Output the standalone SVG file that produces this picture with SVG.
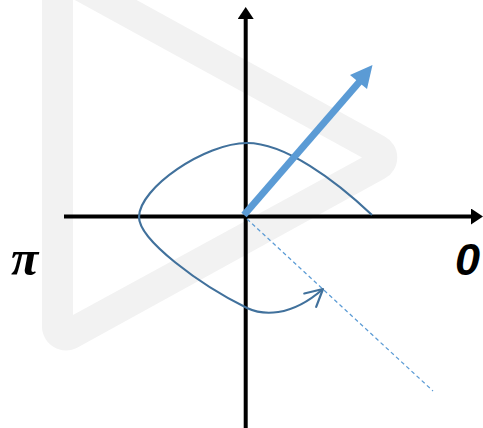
<svg xmlns="http://www.w3.org/2000/svg" width="483" height="428" viewBox="0 0 483 428">
  <style>
    .axis { stroke: #000; stroke-width: 4; fill: none; }
    .lbl { font-weight: bold; font-style: italic; fill: #000; }
  </style>
  <defs>
    <marker id="axhead" viewBox="0 0 12 16" refX="0" refY="8" markerWidth="12" markerHeight="16" markerUnits="userSpaceOnUse" orient="auto">
      <path d="M0,0 L12,8 L0,16 Z" fill="#000"/>
    </marker>
    <marker id="openhead" viewBox="-20 -12 24 24" refX="0" refY="0" markerWidth="24" markerHeight="24" markerUnits="userSpaceOnUse" orient="auto">
      <path d="M-17,-9 L0,0 L-17,9" fill="none" stroke="#41719c" stroke-width="2.2" stroke-linecap="round" stroke-linejoin="round"/>
    </marker>
  </defs>
  <g id="background-triangle">
    <path d="M42,-52 L384.7,136.4 A24,24 0 0 1 384.7,178.6 L77.6,347.4 A24,24 0 0 1 42,326.4 Z" fill="#f2f2f2"/>
    <path d="M73,-1 L362,157.5 L73,315 Z" fill="#ffffff"/>
  </g>
  <g id="connectors">
    <line id="x-axis" class="axis" x1="64" y1="216.5" x2="471" y2="216.5" marker-end="url(#axhead)"/>
    <line id="y-axis" class="axis" x1="245.7" y1="428" x2="245.7" y2="19" marker-end="url(#axhead)"/>
    <line id="dashed" x1="247" y1="219" x2="433" y2="391" stroke="#5b9bd5" stroke-width="1.2" stroke-dasharray="4,3"/>
    <path id="curve" d="M372,215 C335,180 285,143 247,143 C205,143 139,188 139,217 C139,240 200,285 247,308 C262,315 290,318 323,289" fill="none" stroke="#41719c" stroke-width="2.2" marker-end="url(#openhead)"/>
    <g id="vector">
      <line x1="244" y1="215" x2="361" y2="80" stroke="#5b9bd5" stroke-width="7"/>
      <polygon points="372.5,65 367,88.9 350,74.9" fill="#5b9bd5"/>
    </g>
  </g>
  <g id="label-pi">
    <text class="lbl" x="11" y="275" font-family="'Liberation Serif', serif" font-size="50">π</text>
  </g>
  <g id="label-zero">
    <text class="lbl" x="455" y="275" font-family="'Liberation Sans', sans-serif" font-size="45">0</text>
  </g>
</svg>
